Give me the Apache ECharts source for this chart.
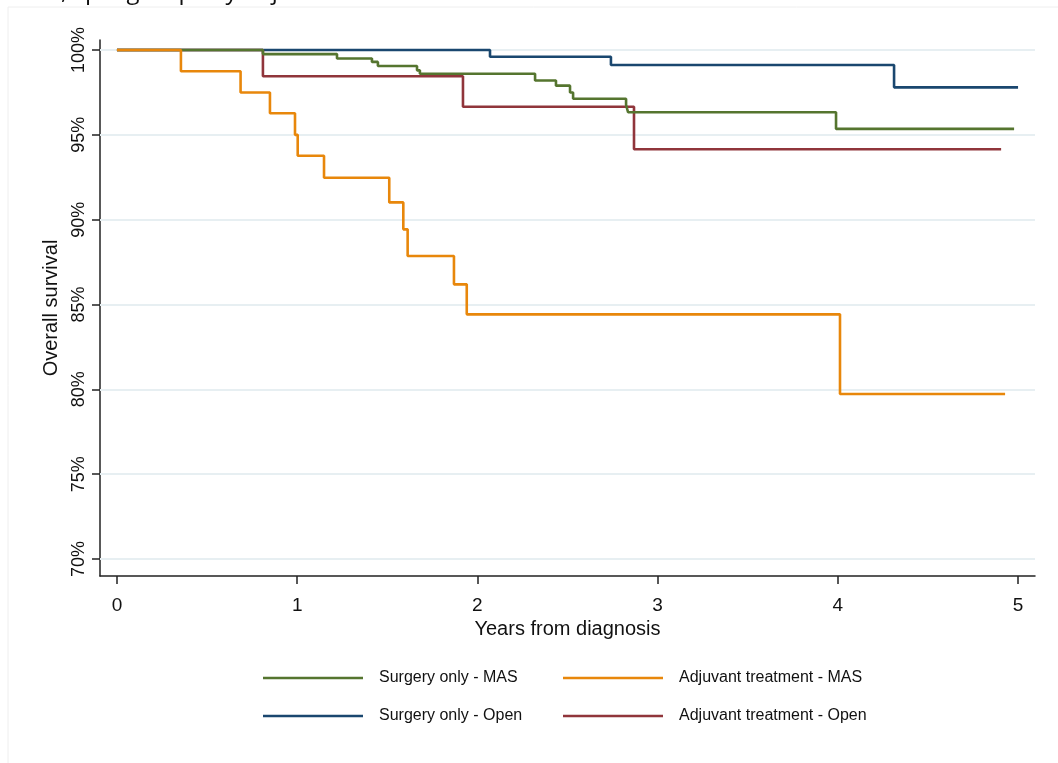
<!DOCTYPE html>
<html>
<head>
<meta charset="utf-8">
<script src="https://cdn.jsdelivr.net/npm/echarts@6/dist/echarts.min.js"></script>
<style>html,body{margin:0;padding:0;background:#fff;}#c{width:1058px;height:763px;}</style>
</head>
<body>
<div id="c"></div>
<script>
// Tick labels
const xTicks = [0, 1, 2, 3, 4, 5];
const yTicks = [70, 75, 80, 85, 90, 95, 100];

// Series names
const names = ['Surgery only - MAS', 'Adjuvant treatment - MAS', 'Surgery only - Open', 'Adjuvant treatment - Open'];

// Surgery only - Open (Kaplan-Meier steps)
const openSurgT = [0, 2.07, 2.741, 4.312, 5.0];
const openSurgS = [100, 99.6, 99.12, 97.8, 97.8];

// Adjuvant treatment - Open
const openAdjT = [0, 0.81, 1.92, 2.869, 4.906];
const openAdjS = [100, 98.45, 96.66, 94.15, 94.15];

// Surgery only - MAS
const masSurgT = [0, 0.81, 1.221, 1.415, 1.448, 1.665, 1.681, 2.32, 2.436, 2.514, 2.531, 2.825, 2.836, 3.99, 4.978];
const masSurgS = [100, 99.76, 99.5, 99.3, 99.06, 98.8, 98.6, 98.2, 97.9, 97.5, 97.13, 96.76, 96.33, 95.35, 95.35];

// Adjuvant treatment - MAS
const masAdjT = [0, 0.355, 0.686, 0.849, 0.988, 1.003, 1.149, 1.511, 1.589, 1.613, 1.87, 1.941, 4.012, 4.928];
const masAdjS = [100, 98.75, 97.5, 96.27, 95.0, 93.77, 92.47, 91.02, 89.43, 87.86, 86.19, 84.42, 79.73, 79.73];

const colors = {
  'Surgery only - MAS': '#55752f',
  'Adjuvant treatment - MAS': '#e8870b',
  'Surgery only - Open': '#1a476f',
  'Adjuvant treatment - Open': '#90353b'
};

function pairs(t, s) { return t.map((v, i) => [v, s[i]]); }

const font = 'Liberation Sans, Arial, sans-serif';

function stepSeries(name, t, s) {
  return {
    name: name,
    type: 'line',
    step: 'end',
    z: 5,
    data: pairs(t, s),
    showSymbol: false,
    symbol: 'none',
    silent: true,
    animation: false,
    lineStyle: { color: colors[name], width: 2.6 },
    itemStyle: { color: colors[name] }
  };
}

function legendAt(name, left, top) {
  return {
    data: [name],
    left: left, top: top,
    orient: 'horizontal',
    icon: 'rect',
    itemWidth: 100, itemHeight: 2.5,
    selectedMode: false,
    textStyle: { fontFamily: font, fontSize: 16, color: '#111', padding: [0, 0, 0, 11] }
  };
}

const chart = echarts.init(document.getElementById('c'), null, { renderer: 'canvas' });
chart.setOption({
  animation: false,
  backgroundColor: '#ffffff',
  title: {
    text: 'Overall survival, split groups by adjuvant treatment',
    left: -115, top: -25,
    textStyle: { fontFamily: 'Open Sans, sans-serif', fontSize: 24, fontWeight: 'normal', color: '#111' }
  },
  graphic: [{
    type: 'rect', silent: true, z: -10,
    shape: { x: 8, y: 7, width: 1100, height: 800 },
    style: { fill: 'none', stroke: '#eeeeee', lineWidth: 1 }
  }],
  grid: { left: 100, right: 23, top: 40, bottom: 187, containLabel: false },
  xAxis: {
    type: 'value',
    min: -0.094, max: 5.094,
    name: 'Years from diagnosis',
    nameLocation: 'middle',
    nameGap: 42,
    nameTextStyle: { fontFamily: font, fontSize: 20, color: '#111' },
    axisLine: { show: true, onZero: false, lineStyle: { color: '#222', width: 1.5 } },
    axisTick: { show: true, length: 8, customValues: xTicks, lineStyle: { color: '#222', width: 1.5 } },
    axisLabel: { customValues: xTicks, margin: 20, fontFamily: font, fontSize: 19, color: '#111',
      formatter: v => String(v) },
    splitLine: { show: false }
  },
  yAxis: {
    type: 'value',
    min: 69.0, max: 100.59,
    name: 'Overall survival',
    nameLocation: 'middle',
    nameGap: 39,
    nameTextStyle: { fontFamily: font, fontSize: 20, color: '#111' },
    axisLine: { show: true, onZero: false, lineStyle: { color: '#222', width: 1.5 } },
    axisTick: { show: true, length: 8, customValues: yTicks, lineStyle: { color: '#222', width: 1.5 } },
    axisLabel: { customValues: yTicks, rotate: 90, margin: 12, fontFamily: font, fontSize: 18, color: '#111',
      formatter: v => v + '%' },
    splitLine: { show: false }
  },
  legend: [
    legendAt(names[0], 258, 665),
    legendAt(names[1], 558, 665),
    legendAt(names[2], 258, 703),
    legendAt(names[3], 558, 703)
  ],
  series: [
    {
      name: 'grid',
      type: 'line',
      z: 1,
      data: [],
      silent: true,
      animation: false,
      markLine: {
        silent: true, symbol: 'none', animation: false,
        label: { show: false },
        lineStyle: { color: '#e7eff2', width: 2, type: 'solid' },
        data: yTicks.map(v => ({ yAxis: v }))
      }
    },
    stepSeries('Surgery only - Open', openSurgT, openSurgS),
    stepSeries('Adjuvant treatment - Open', openAdjT, openAdjS),
    stepSeries('Surgery only - MAS', masSurgT, masSurgS),
    stepSeries('Adjuvant treatment - MAS', masAdjT, masAdjS)
  ]
});
</script>
</body>
</html>
